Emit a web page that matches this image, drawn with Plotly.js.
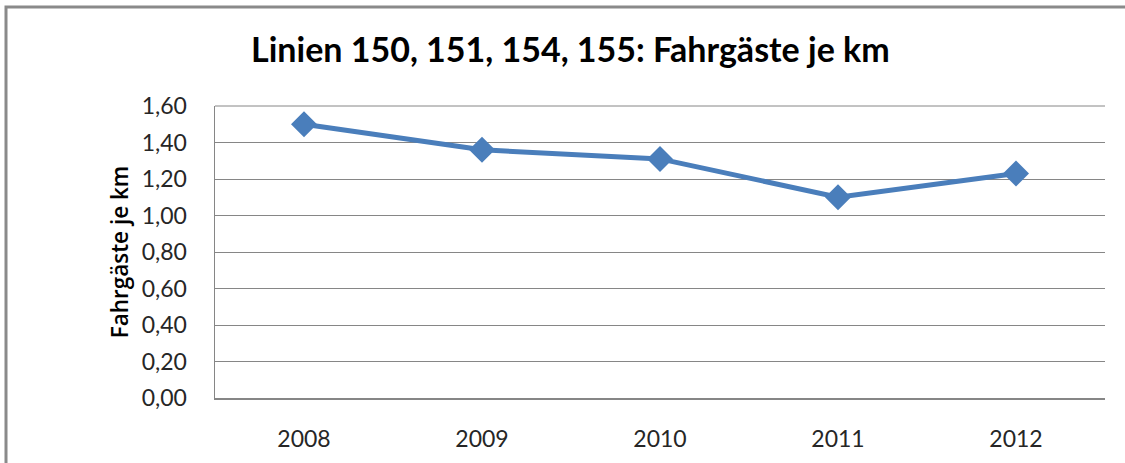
<!DOCTYPE html>
<html>
<head>
<meta charset="utf-8">
<script src="https://cdn.plot.ly/plotly-3.0.1.min.js"></script>
<style>
html,body{margin:0;padding:0;background:#fff;}
#chart{width:1125px;height:463px;}
</style>
</head>
<body>
<div id="chart"></div>
<script>
const years = ["2008", "2009", "2010", "2011", "2012"];
const passengersPerKm = [1.50, 1.36, 1.31, 1.10, 1.23];
const yTickVals = [0, 0.2, 0.4, 0.6, 0.8, 1.0, 1.2, 1.4, 1.6];
const yTickText = ["0,00", "0,20", "0,40", "0,60", "0,80", "1,00", "1,20", "1,40", "1,60"];

const L = 215, R = 20, T = 106, B = 65, W = 1125, H = 463;
const pw = W - L - R, ph = H - T - B;
const px = v => (v - L) / pw;
const py = v => (H - B - v) / ph;

const trace = {
  x: years,
  y: passengersPerKm,
  type: "scatter",
  mode: "lines+markers",
  line: {color: "#4a7ebb", width: 5},
  marker: {symbol: "diamond", size: 20, color: "#4a7ebb"},
  hoverinfo: "none"
};

const layout = {
  width: W, height: H,
  margin: {l: L, r: R, t: T, b: B, pad: 0},
  paper_bgcolor: "#ffffff",
  plot_bgcolor: "#ffffff",
  showlegend: false,
  font: {family: "Lato, 'Open Sans', sans-serif", color: "#000"},
  title: {
    text: "Linien 150, 151, 154, 155: Fahrgäste je km",
    font: {family: "Lato, 'Open Sans', sans-serif", size: 34, color: "#000", weight: "bold"},
    x: 0.507, xanchor: "center",
    y: 1 - 50 / H, yanchor: "middle"
  },
  xaxis: {
    type: "category",
    range: [-0.5, 4.5],
    showgrid: false,
    zeroline: false,
    showline: true,
    linecolor: "#868686",
    linewidth: 1.5,
    ticks: "",
    ticklabelstandoff: 20,
    tickfont: {size: 23, color: "#262626"},
    fixedrange: true
  },
  yaxis: {
    range: [0, 1.6],
    tickvals: yTickVals,
    ticktext: yTickText,
    showgrid: true,
    gridcolor: "#868686",
    gridwidth: 1,
    zeroline: false,
    showline: true,
    linecolor: "#868686",
    linewidth: 1.5,
    ticks: "",
    ticklabelstandoff: 22,
    tickfont: {size: 23, color: "#262626"},
    title: {text: "Fahrgäste je km", font: {family: "'Open Sans', sans-serif", size: 22.5, color: "#000", weight: 600}, standoff: 7},
    automargin: false,
    fixedrange: true
  },
  shapes: [
    {type: "line", xref: "paper", yref: "paper", x0: 0, x1: 1, y0: 1, y1: 1,
     line: {color: "#868686", width: 1}},
    {type: "rect", xref: "paper", yref: "paper",
     x0: px(6), x1: px(1135), y0: py(475), y1: py(7),
     line: {color: "#8a8a8a", width: 3}, layer: "below"}
  ]
};

Plotly.newPlot("chart", [trace], layout, {displayModeBar: false, staticPlot: true});
</script>
</body>
</html>
